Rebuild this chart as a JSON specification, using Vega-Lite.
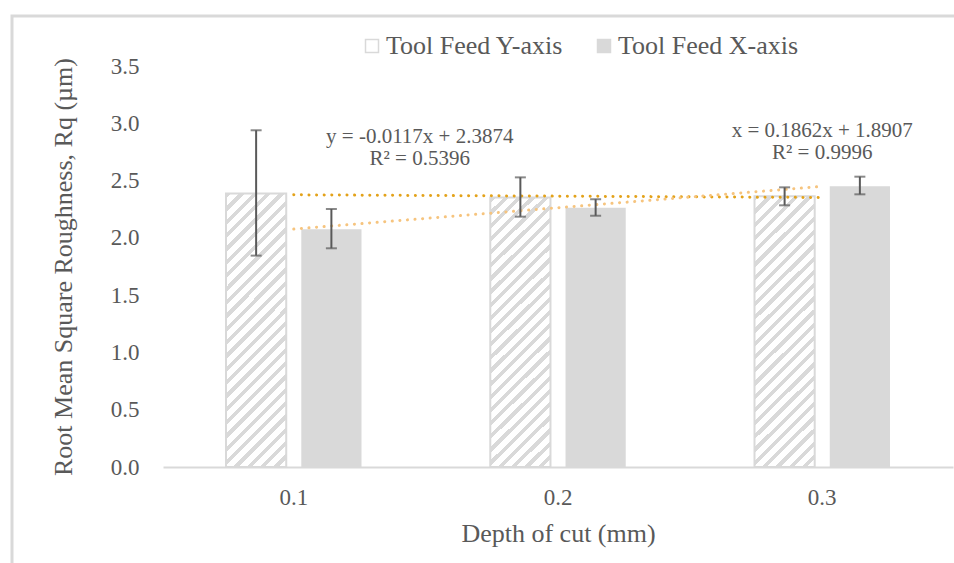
{
  "$schema": "https://vega.github.io/schema/vega-lite/v6.json",
  "width": 952,
  "height": 557,
  "autosize": {"type": "none"},
  "padding": {"left": 12, "top": 16, "right": -10, "bottom": -10},
  "background": "white",
  "config": {
    "view": {"stroke": "#D9D9D9", "strokeWidth": 3},
    "font": "Liberation Serif",
    "axis": {
      "labelFont": "Liberation Serif",
      "titleFont": "Liberation Serif",
      "labelColor": "#595959",
      "titleColor": "#595959",
      "titleFontWeight": "normal",
      "grid": false,
      "ticks": false,
      "tickSize": 0
    }
  },
  "datasets": {
    "bars": [
      {"depth": "0.1", "series": "Tool Feed Y-axis", "value": 2.387, "lo": 1.845, "hi": 2.939},
      {"depth": "0.1", "series": "Tool Feed X-axis", "value": 2.076, "lo": 1.909, "hi": 2.252},
      {"depth": "0.2", "series": "Tool Feed Y-axis", "value": 2.352, "lo": 2.185, "hi": 2.528},
      {"depth": "0.2", "series": "Tool Feed X-axis", "value": 2.262, "lo": 2.193, "hi": 2.337},
      {"depth": "0.3", "series": "Tool Feed Y-axis", "value": 2.364, "lo": 2.284, "hi": 2.441},
      {"depth": "0.3", "series": "Tool Feed X-axis", "value": 2.451, "lo": 2.380, "hi": 2.534}
    ],
    "trend": [
      {"depth": "0.1", "series": "Tool Feed Y-axis", "value": 2.3757},
      {"depth": "0.2", "series": "Tool Feed Y-axis", "value": 2.3640},
      {"depth": "0.3", "series": "Tool Feed Y-axis", "value": 2.3523},
      {"depth": "0.1", "series": "Tool Feed X-axis", "value": 2.0769},
      {"depth": "0.2", "series": "Tool Feed X-axis", "value": 2.2631},
      {"depth": "0.3", "series": "Tool Feed X-axis", "value": 2.4493}
    ]
  },
  "layer": [
    {
      "data": {"name": "bars"},
      "mark": {"type": "bar", "stroke": "#D9D9D9"},
      "encoding": {
        "x": {
          "field": "depth", "type": "nominal", "title": "Depth of cut (mm)",
          "scale": {"range": [151, 941], "paddingInner": 0.4873, "paddingOuter": 0.2385},
          "axis": {"orient": "bottom", "offset": -106, "labelAngle": 0, "domainColor": "#D9D9D9", "domainWidth": 2, "labelFontSize": 23, "labelPadding": 19, "titleFontSize": 26, "titlePadding": 11}
        },
        "xOffset": {
          "field": "series", "type": "nominal",
          "scale": {"domain": ["Tool Feed Y-axis", "Tool Feed X-axis"], "paddingInner": 0.2, "paddingOuter": 0}
        },
        "y": {
          "field": "value", "type": "quantitative", "title": "Root Mean Square Roughness, Rq (µm)",
          "scale": {"domain": [0, 3.5], "range": [451, 50]},
          "axis": {"orient": "left", "offset": -151, "domain": false, "values": [0, 0.5, 1, 1.5, 2, 2.5, 3, 3.5], "format": ".1f", "labelFontSize": 23, "labelPadding": 24, "titleFontSize": 26, "titlePadding": 34}
        },
        "fill": {
          "field": "series", "type": "nominal",
          "scale": {"domain": ["Tool Feed Y-axis", "Tool Feed X-axis"], "range": ["#FFFFFF", "#D9D9D9"]},
          "condition": {
            "test": "datum.series === 'Tool Feed Y-axis'",
            "value": {
              "gradient": "linear", "x1": 0, "y1": 0, "x2": 0.2568, "y2": 1.1639,
              "stops": [
                {"offset": 0, "color": "#D9D9D9"}, {"offset": 0.016, "color": "#D9D9D9"}, {"offset": 0.016, "color": "#FFFFFF"}, {"offset": 0.04, "color": "#FFFFFF"},
                {"offset": 0.04, "color": "#D9D9D9"}, {"offset": 0.056, "color": "#D9D9D9"}, {"offset": 0.056, "color": "#FFFFFF"}, {"offset": 0.08, "color": "#FFFFFF"},
                {"offset": 0.08, "color": "#D9D9D9"}, {"offset": 0.096, "color": "#D9D9D9"}, {"offset": 0.096, "color": "#FFFFFF"}, {"offset": 0.12, "color": "#FFFFFF"},
                {"offset": 0.12, "color": "#D9D9D9"}, {"offset": 0.136, "color": "#D9D9D9"}, {"offset": 0.136, "color": "#FFFFFF"}, {"offset": 0.16, "color": "#FFFFFF"},
                {"offset": 0.16, "color": "#D9D9D9"}, {"offset": 0.176, "color": "#D9D9D9"}, {"offset": 0.176, "color": "#FFFFFF"}, {"offset": 0.2, "color": "#FFFFFF"},
                {"offset": 0.2, "color": "#D9D9D9"}, {"offset": 0.216, "color": "#D9D9D9"}, {"offset": 0.216, "color": "#FFFFFF"}, {"offset": 0.24, "color": "#FFFFFF"},
                {"offset": 0.24, "color": "#D9D9D9"}, {"offset": 0.256, "color": "#D9D9D9"}, {"offset": 0.256, "color": "#FFFFFF"}, {"offset": 0.28, "color": "#FFFFFF"},
                {"offset": 0.28, "color": "#D9D9D9"}, {"offset": 0.296, "color": "#D9D9D9"}, {"offset": 0.296, "color": "#FFFFFF"}, {"offset": 0.32, "color": "#FFFFFF"},
                {"offset": 0.32, "color": "#D9D9D9"}, {"offset": 0.336, "color": "#D9D9D9"}, {"offset": 0.336, "color": "#FFFFFF"}, {"offset": 0.36, "color": "#FFFFFF"},
                {"offset": 0.36, "color": "#D9D9D9"}, {"offset": 0.376, "color": "#D9D9D9"}, {"offset": 0.376, "color": "#FFFFFF"}, {"offset": 0.4, "color": "#FFFFFF"},
                {"offset": 0.4, "color": "#D9D9D9"}, {"offset": 0.416, "color": "#D9D9D9"}, {"offset": 0.416, "color": "#FFFFFF"}, {"offset": 0.44, "color": "#FFFFFF"},
                {"offset": 0.44, "color": "#D9D9D9"}, {"offset": 0.456, "color": "#D9D9D9"}, {"offset": 0.456, "color": "#FFFFFF"}, {"offset": 0.48, "color": "#FFFFFF"},
                {"offset": 0.48, "color": "#D9D9D9"}, {"offset": 0.496, "color": "#D9D9D9"}, {"offset": 0.496, "color": "#FFFFFF"}, {"offset": 0.52, "color": "#FFFFFF"},
                {"offset": 0.52, "color": "#D9D9D9"}, {"offset": 0.536, "color": "#D9D9D9"}, {"offset": 0.536, "color": "#FFFFFF"}, {"offset": 0.56, "color": "#FFFFFF"},
                {"offset": 0.56, "color": "#D9D9D9"}, {"offset": 0.576, "color": "#D9D9D9"}, {"offset": 0.576, "color": "#FFFFFF"}, {"offset": 0.6, "color": "#FFFFFF"},
                {"offset": 0.6, "color": "#D9D9D9"}, {"offset": 0.616, "color": "#D9D9D9"}, {"offset": 0.616, "color": "#FFFFFF"}, {"offset": 0.64, "color": "#FFFFFF"},
                {"offset": 0.64, "color": "#D9D9D9"}, {"offset": 0.656, "color": "#D9D9D9"}, {"offset": 0.656, "color": "#FFFFFF"}, {"offset": 0.68, "color": "#FFFFFF"},
                {"offset": 0.68, "color": "#D9D9D9"}, {"offset": 0.696, "color": "#D9D9D9"}, {"offset": 0.696, "color": "#FFFFFF"}, {"offset": 0.72, "color": "#FFFFFF"},
                {"offset": 0.72, "color": "#D9D9D9"}, {"offset": 0.736, "color": "#D9D9D9"}, {"offset": 0.736, "color": "#FFFFFF"}, {"offset": 0.76, "color": "#FFFFFF"},
                {"offset": 0.76, "color": "#D9D9D9"}, {"offset": 0.776, "color": "#D9D9D9"}, {"offset": 0.776, "color": "#FFFFFF"}, {"offset": 0.8, "color": "#FFFFFF"},
                {"offset": 0.8, "color": "#D9D9D9"}, {"offset": 0.816, "color": "#D9D9D9"}, {"offset": 0.816, "color": "#FFFFFF"}, {"offset": 0.84, "color": "#FFFFFF"},
                {"offset": 0.84, "color": "#D9D9D9"}, {"offset": 0.856, "color": "#D9D9D9"}, {"offset": 0.856, "color": "#FFFFFF"}, {"offset": 0.88, "color": "#FFFFFF"},
                {"offset": 0.88, "color": "#D9D9D9"}, {"offset": 0.896, "color": "#D9D9D9"}, {"offset": 0.896, "color": "#FFFFFF"}, {"offset": 0.92, "color": "#FFFFFF"},
                {"offset": 0.92, "color": "#D9D9D9"}, {"offset": 0.936, "color": "#D9D9D9"}, {"offset": 0.936, "color": "#FFFFFF"}, {"offset": 0.96, "color": "#FFFFFF"},
                {"offset": 0.96, "color": "#D9D9D9"}, {"offset": 0.976, "color": "#D9D9D9"}, {"offset": 0.976, "color": "#FFFFFF"}, {"offset": 1, "color": "#FFFFFF"}
              ]
            }
          },
          "legend": {
            "orient": "none", "legendX": 347, "legendY": 17, "direction": "horizontal", "title": null,
            "symbolType": "square", "symbolSize": 169, "symbolStrokeColor": "#D9D9D9", "symbolStrokeWidth": 1.5,
            "labelFont": "Liberation Serif", "labelFontSize": 26, "labelColor": "#595959", "labelOffset": 1, "labelLimit": 400, "columnPadding": 27,
            "encode": {
              "symbols": {
                "update": {
                  "stroke": {"value": "#D9D9D9"},
                  "fill": [
                    {
                      "test": "datum.value === 'Tool Feed Y-axis'",
                      "value": {
                        "gradient": "linear", "x1": 0, "y1": 0, "x2": 1, "y2": 1,
                        "stops": [
                          {"offset": 0, "color": "#FFFFFF"}, {"offset": 0.5, "color": "#FFFFFF"}, {"offset": 0.5, "color": "#D9D9D9"},
                          {"offset": 0.72, "color": "#D9D9D9"}, {"offset": 0.72, "color": "#FFFFFF"}, {"offset": 1, "color": "#FFFFFF"}
                        ]
                      }
                    },
                    {"value": "#D9D9D9"}
                  ]
                }
              }
            }
          }
        },
        "strokeWidth": {"condition": {"test": "datum.series === 'Tool Feed Y-axis'", "value": 2}, "value": 0}
      }
    },
    {
      "data": {"name": "trend"},
      "mark": {"type": "line", "strokeDash": [0.1, 7.5], "strokeCap": "round", "strokeWidth": 3},
      "encoding": {
        "x": {"field": "depth", "type": "nominal", "title": "Depth of cut (mm)"},
        "y": {"field": "value", "type": "quantitative", "title": "Root Mean Square Roughness, Rq (µm)"},
        "detail": {"field": "series", "type": "nominal"},
        "stroke": {"condition": {"test": "datum.series === 'Tool Feed Y-axis'", "value": "#E3A21A"}, "value": "#F6C47E"}
      }
    },
    {
      "data": {"name": "bars"},
      "mark": {"type": "rule", "color": "#595959", "strokeWidth": 2},
      "encoding": {
        "x": {"field": "depth", "type": "nominal", "title": "Depth of cut (mm)"},
        "xOffset": {"field": "series", "type": "nominal"},
        "y": {"field": "lo", "type": "quantitative", "title": "Root Mean Square Roughness, Rq (µm)"},
        "y2": {"field": "hi"}
      }
    },
    {
      "data": {"name": "bars"},
      "mark": {"type": "tick", "color": "#595959", "thickness": 2, "size": 11},
      "encoding": {
        "x": {"field": "depth", "type": "nominal", "title": "Depth of cut (mm)"},
        "xOffset": {"field": "series", "type": "nominal"},
        "y": {"field": "lo", "type": "quantitative", "title": "Root Mean Square Roughness, Rq (µm)"}
      }
    },
    {
      "data": {"name": "bars"},
      "mark": {"type": "tick", "color": "#595959", "thickness": 2, "size": 11},
      "encoding": {
        "x": {"field": "depth", "type": "nominal", "title": "Depth of cut (mm)"},
        "xOffset": {"field": "series", "type": "nominal"},
        "y": {"field": "hi", "type": "quantitative", "title": "Root Mean Square Roughness, Rq (µm)"}
      }
    },
    {
      "data": {"values": [{"label": "y = -0.0117x + 2.3874\nR² = 0.5396"}]},
      "mark": {"type": "text", "lineBreak": "\n", "align": "center", "baseline": "alphabetic", "fontSize": 21, "lineHeight": 22, "color": "#595959", "font": "Liberation Serif", "dx": 126},
      "encoding": {
        "x": {"datum": "0.1", "type": "nominal"},
        "y": {"datum": 2.828, "type": "quantitative"},
        "text": {"field": "label"}
      }
    },
    {
      "data": {"values": [{"label": "x = 0.1862x + 1.8907\nR² = 0.9996"}]},
      "mark": {"type": "text", "lineBreak": "\n", "align": "center", "baseline": "alphabetic", "fontSize": 21, "lineHeight": 22, "color": "#595959", "font": "Liberation Serif"},
      "encoding": {
        "x": {"datum": "0.3", "type": "nominal"},
        "y": {"datum": 2.88, "type": "quantitative"},
        "text": {"field": "label"}
      }
    }
  ]
}
